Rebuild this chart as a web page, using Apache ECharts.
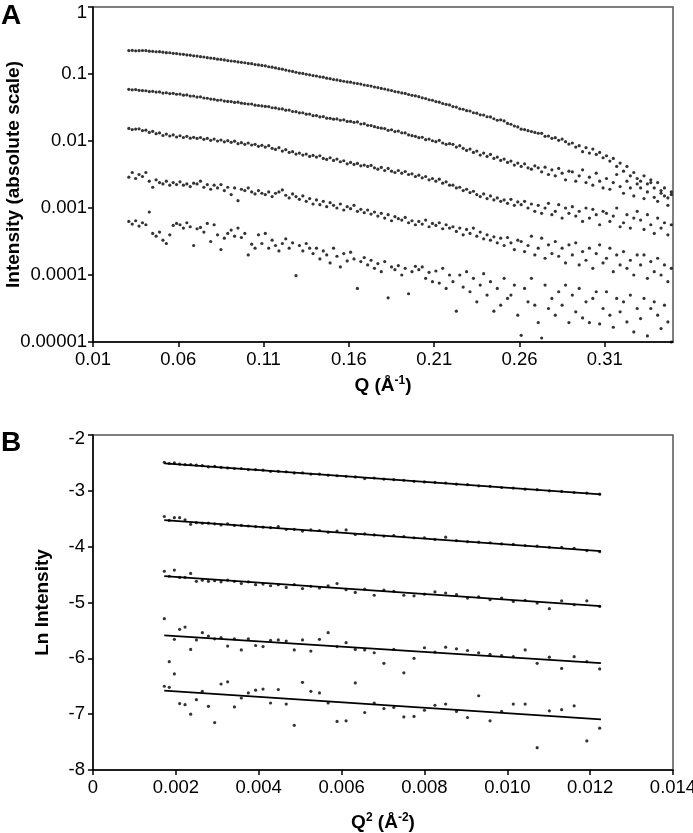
<!DOCTYPE html>
<html><head><meta charset="utf-8">
<script src="https://cdn.jsdelivr.net/npm/echarts@6/dist/echarts.min.js"></script>
<style>html,body{margin:0;padding:0;background:#fff}#c{width:693px;height:833px}</style>
</head><body><div id="c"></div>
<script>
// ---------- Panel A: intensity (log axis) vs Q ----------
const qA = [
0.031,0.033,0.035,0.037,0.039,0.041,0.043,0.045,0.047,0.049,
0.051,0.053,0.055,0.057,0.059,0.061,0.063,0.065,0.067,0.069,
0.071,0.073,0.075,0.077,0.079,0.081,0.083,0.085,0.087,0.089,
0.091,0.093,0.095,0.097,0.099,0.101,0.103,0.105,0.107,0.109,
0.111,0.113,0.115,0.117,0.119,0.121,0.123,0.125,0.127,0.129,
0.131,0.133,0.135,0.137,0.139,0.141,0.143,0.145,0.147,0.149,
0.151,0.153,0.155,0.157,0.159,0.161,0.163,0.165,0.167,0.169,
0.171,0.173,0.175,0.177,0.179,0.181,0.183,0.185,0.187,0.189,
0.191,0.193,0.195,0.197,0.199,0.201,0.203,0.205,0.207,0.209,
0.211,0.213,0.215,0.217,0.219,0.221,0.223,0.225,0.227,0.229,
0.231,0.233,0.235,0.237,0.239,0.241,0.243,0.245,0.247,0.249,
0.251,0.253,0.255,0.257,0.259,0.261,0.263,0.265,0.267,0.269,
0.271,0.273,0.275,0.277,0.279,0.281,0.283,0.285,0.287,0.289,
0.291,0.293,0.295,0.297,0.299,0.301,0.303,0.305,0.307,0.309,
0.311,0.313,0.315,0.317,0.319,0.321,0.323,0.325,0.327,0.329,
0.331,0.333,0.335,0.337,0.339,0.341,0.343,0.345,0.347,0.349];

// log10 of intensity
const aS1LogI = [
-0.650,-0.648,-0.654,-0.652,-0.649,-0.651,-0.660,-0.662,-0.668,-0.667,
-0.674,-0.681,-0.683,-0.692,-0.695,-0.702,-0.706,-0.716,-0.719,-0.729,
-0.733,-0.742,-0.746,-0.757,-0.762,-0.768,-0.779,-0.782,-0.790,-0.800,
-0.806,-0.810,-0.820,-0.826,-0.832,-0.842,-0.846,-0.858,-0.864,-0.872,
-0.878,-0.892,-0.898,-0.910,-0.920,-0.928,-0.942,-0.952,-0.962,-0.974,
-0.986,-0.992,-1.004,-1.012,-1.024,-1.030,-1.042,-1.048,-1.062,-1.070,
-1.082,-1.088,-1.100,-1.108,-1.118,-1.122,-1.136,-1.142,-1.150,-1.164,
-1.172,-1.180,-1.194,-1.202,-1.216,-1.224,-1.238,-1.246,-1.262,-1.270,
-1.282,-1.290,-1.306,-1.318,-1.326,-1.338,-1.356,-1.366,-1.384,-1.392,
-1.412,-1.420,-1.440,-1.452,-1.462,-1.486,-1.494,-1.520,-1.526,-1.548,
-1.552,-1.578,-1.584,-1.610,-1.612,-1.638,-1.640,-1.668,-1.690,-1.684,
-1.700,-1.738,-1.750,-1.776,-1.790,-1.824,-1.830,-1.846,-1.858,-1.872,
-1.884,-1.886,-1.930,-1.925,-1.960,-1.950,-1.990,-1.972,-2.010,-2.046,
-2.030,-2.090,-2.070,-2.160,-2.100,-2.180,-2.120,-2.200,-2.170,-2.250,
-2.220,-2.300,-2.260,-2.380,-2.330,-2.450,-2.380,-2.520,-2.470,-2.560,
-2.600,-2.520,-2.640,-2.580,-2.700,-2.620,-2.780,-2.700,-2.850,-2.760];
const aS2LogI = [
-1.228,-1.236,-1.232,-1.244,-1.248,-1.250,-1.262,-1.258,-1.270,-1.268,
-1.284,-1.280,-1.292,-1.288,-1.302,-1.300,-1.316,-1.312,-1.330,-1.328,
-1.344,-1.340,-1.358,-1.362,-1.374,-1.378,-1.392,-1.388,-1.404,-1.410,
-1.412,-1.424,-1.420,-1.436,-1.442,-1.448,-1.448,-1.466,-1.470,-1.476,
-1.484,-1.486,-1.504,-1.506,-1.520,-1.522,-1.540,-1.538,-1.560,-1.562,
-1.580,-1.578,-1.600,-1.598,-1.622,-1.620,-1.640,-1.636,-1.660,-1.662,
-1.674,-1.670,-1.690,-1.684,-1.708,-1.708,-1.722,-1.716,-1.746,-1.742,
-1.766,-1.770,-1.786,-1.800,-1.808,-1.814,-1.840,-1.832,-1.860,-1.852,
-1.878,-1.880,-1.910,-1.920,-1.930,-1.950,-1.944,-1.980,-1.972,-1.996,
-2.010,-1.990,-2.030,-2.050,-2.040,-2.050,-2.090,-2.070,-2.110,-2.140,
-2.120,-2.170,-2.150,-2.210,-2.180,-2.230,-2.200,-2.260,-2.240,-2.290,
-2.270,-2.320,-2.300,-2.360,-2.330,-2.380,-2.340,-2.400,-2.420,-2.370,
-2.400,-2.460,-2.390,-2.500,-2.430,-2.520,-2.410,-2.480,-2.580,-2.450,
-2.460,-2.600,-2.520,-2.430,-2.620,-2.540,-2.660,-2.480,-2.600,-2.700,
-2.560,-2.720,-2.620,-2.500,-2.680,-2.780,-2.600,-2.700,-2.820,-2.640,
-2.700,-2.860,-2.760,-2.620,-2.840,-2.900,-2.740,-2.820,-2.960,-2.800];
const aS3LogI = [
-1.812,-1.830,-1.822,-1.818,-1.845,-1.838,-1.872,-1.855,-1.890,-1.880,
-1.918,-1.896,-1.925,-1.910,-1.940,-1.922,-1.948,-1.930,-1.958,-1.945,
-1.962,-1.948,-1.975,-1.960,-1.990,-1.972,-2.000,-1.985,-2.012,-1.995,
-2.020,-2.002,-2.040,-2.025,-2.050,-2.030,-2.060,-2.050,-2.080,-2.065,
-2.090,-2.070,-2.110,-2.125,-2.100,-2.150,-2.130,-2.170,-2.160,-2.195,
-2.180,-2.210,-2.195,-2.230,-2.215,-2.240,-2.220,-2.260,-2.275,-2.250,
-2.290,-2.270,-2.310,-2.295,-2.340,-2.320,-2.350,-2.335,-2.370,-2.360,
-2.380,-2.365,-2.400,-2.420,-2.395,-2.440,-2.410,-2.450,-2.470,-2.440,
-2.480,-2.455,-2.500,-2.490,-2.530,-2.510,-2.550,-2.530,-2.580,-2.560,
-2.600,-2.570,-2.630,-2.610,-2.660,-2.660,-2.700,-2.690,-2.740,-2.720,
-2.770,-2.750,-2.800,-2.830,-2.790,-2.860,-2.820,-2.880,-2.850,-2.900,
-2.880,-2.930,-2.870,-2.960,-2.910,-2.950,-2.900,-3.000,-2.940,-3.050,
-2.960,-3.080,-3.000,-2.930,-3.100,-3.050,-2.950,-3.150,-3.000,-3.080,
-2.980,-3.120,-3.050,-3.200,-3.000,-3.150,-3.020,-3.100,-3.250,-3.050,
-3.080,-3.200,-3.120,-3.000,-3.280,-3.220,-3.100,-3.300,-3.150,-3.050,
-3.180,-3.320,-3.100,-3.250,-3.380,-3.150,-3.300,-3.220,-3.400,-3.250];
const aS4LogI = [
-2.540,-2.470,-2.560,-2.500,-2.530,-2.470,-2.600,-2.690,-2.580,-2.620,
-2.640,-2.600,-2.660,-2.620,-2.650,-2.610,-2.660,-2.640,-2.680,-2.630,
-2.640,-2.600,-2.690,-2.650,-2.720,-2.660,-2.700,-2.650,-2.740,-2.690,
-2.800,-2.700,-2.890,-2.720,-2.740,-2.700,-2.760,-2.790,-2.740,-2.780,
-2.800,-2.760,-2.830,-2.780,-2.760,-2.730,-2.810,-2.850,-2.790,-2.830,
-2.870,-2.820,-2.900,-2.860,-2.940,-2.880,-2.950,-2.900,-2.980,-2.920,
-2.960,-3.000,-2.940,-3.030,-2.980,-3.010,-2.960,-3.050,-3.020,-3.070,
-3.030,-3.090,-3.060,-3.120,-3.080,-3.150,-3.100,-3.190,-3.130,-3.160,
-3.180,-3.140,-3.220,-3.190,-3.250,-3.200,-3.240,-3.180,-3.280,-3.230,
-3.260,-3.220,-3.310,-3.250,-3.300,-3.280,-3.350,-3.300,-3.400,-3.320,
-3.380,-3.300,-3.420,-3.360,-3.460,-3.400,-3.480,-3.430,-3.520,-3.450,
-3.560,-3.440,-3.520,-3.620,-3.480,-3.500,-3.650,-3.560,-3.420,-3.700,
-3.600,-3.450,-3.750,-3.550,-3.680,-3.500,-3.720,-3.600,-3.820,-3.550,
-3.700,-3.520,-3.850,-3.650,-3.780,-3.600,-3.900,-3.680,-3.550,-3.820,
-3.750,-3.600,-3.950,-3.700,-3.850,-3.650,-3.900,-3.780,-4.000,-3.700,
-3.850,-3.700,-4.050,-3.800,-3.950,-3.750,-4.000,-3.850,-4.100,-3.900];
const aS5LogI = [
-3.200,-3.240,-3.190,-3.270,-3.220,-3.250,-3.060,-3.380,-3.420,-3.360,
-3.480,-3.530,-3.400,-3.260,-3.230,-3.250,-3.300,-3.220,-3.280,-3.560,
-3.310,-3.290,-3.360,-3.230,-3.500,-3.250,-3.400,-3.620,-3.450,-3.380,
-3.330,-3.420,-3.300,-3.440,-3.380,-3.700,-3.540,-3.600,-3.400,-3.530,
-3.380,-3.600,-3.480,-3.560,-3.640,-3.530,-3.460,-3.600,-3.520,-4.010,
-3.560,-3.640,-3.530,-3.600,-3.680,-3.600,-3.760,-3.640,-3.700,-3.820,
-3.600,-3.720,-3.880,-3.680,-3.790,-3.660,-3.760,-4.200,-3.800,-3.740,
-3.850,-3.780,-3.900,-3.830,-3.950,-3.800,-4.340,-3.880,-3.920,-3.860,
-4.000,-3.900,-4.280,-3.950,-3.870,-3.920,-3.880,-4.050,-3.960,-4.100,
-3.940,-4.120,-3.900,-4.200,-4.000,-4.100,-4.540,-4.000,-4.180,-3.950,
-4.250,-4.050,-4.400,-4.150,-3.980,-4.300,-4.100,-4.540,-4.200,-4.450,
-4.050,-4.350,-4.300,-4.150,-4.600,-4.900,-4.200,-4.400,-4.050,-4.450,
-4.710,-4.940,-4.150,-4.500,-4.350,-4.600,-4.250,-4.450,-4.150,-4.710,
-4.300,-4.550,-4.200,-4.640,-4.400,-4.710,-4.350,-4.250,-4.730,-4.500,
-4.250,-4.600,-4.780,-4.350,-4.550,-4.400,-4.700,-4.300,-4.850,-4.500,
-4.650,-4.350,-4.910,-4.500,-4.400,-4.600,-4.800,-4.450,-4.700,-5.000];

const xTicksA = [0.01,0.06,0.11,0.16,0.21,0.26,0.31];
const xTickLabelsA = ['0.01','0.06','0.11','0.16','0.21','0.26','0.31'];
const yTicksA = [0.00001,0.0001,0.001,0.01,0.1,1];
const yTickLabelsA = ['0.00001','0.0001','0.001','0.01','0.1','1'];

// ---------- Panel B: Ln intensity vs Q^2 (Guinier) ----------
const qB2 = [
0.001722,0.001841,0.001964,0.002091,0.002222,0.002357,0.002496,0.002639,0.002786,0.002937,
0.003091,0.003250,0.003413,0.003580,0.003750,0.003925,0.004104,0.004286,0.004473,0.004664,
0.004858,0.005057,0.005259,0.005466,0.005676,0.005891,0.006109,0.006331,0.006558,0.006788,
0.007022,0.007261,0.007503,0.007749,0.008000,0.008254,0.008512,0.008774,0.009040,0.009310,
0.009584,0.009863,0.010145,0.010431,0.010721,0.011015,0.011312,0.011614,0.011920,0.012230];
const bS1 = [
-2.49,-2.51,-2.50,-2.52,-2.53,-2.53,-2.54,-2.55,-2.57,-2.56,
-2.58,-2.59,-2.60,-2.60,-2.62,-2.62,-2.63,-2.65,-2.65,-2.66,
-2.68,-2.68,-2.70,-2.70,-2.72,-2.73,-2.74,-2.75,-2.78,-2.77,
-2.79,-2.80,-2.81,-2.83,-2.84,-2.85,-2.86,-2.88,-2.89,-2.91,
-2.92,-2.94,-2.95,-2.97,-2.98,-3.00,-3.01,-3.03,-3.04,-3.06];
const bS2 = [
-3.46,-3.53,-3.48,-3.48,-3.52,-3.60,-3.57,-3.58,-3.58,-3.59,
-3.61,-3.59,-3.62,-3.62,-3.63,-3.64,-3.65,-3.66,-3.64,-3.69,
-3.69,-3.72,-3.70,-3.71,-3.74,-3.72,-3.70,-3.78,-3.77,-3.79,
-3.81,-3.80,-3.82,-3.84,-3.84,-3.87,-3.83,-3.89,-3.91,-3.92,
-3.93,-3.95,-3.96,-3.98,-3.99,-4.01,-4.01,-4.03,-4.07,-4.09];
const bS3 = [
-4.44,-4.53,-4.42,-4.55,-4.55,-4.48,-4.62,-4.60,-4.62,-4.61,
-4.63,-4.60,-4.62,-4.66,-4.63,-4.68,-4.67,-4.70,-4.68,-4.73,
-4.68,-4.75,-4.71,-4.74,-4.70,-4.66,-4.77,-4.82,-4.76,-4.87,
-4.78,-4.80,-4.87,-4.88,-4.85,-4.81,-4.83,-4.86,-4.92,-4.90,
-4.95,-4.92,-4.98,-4.96,-5.01,-5.11,-4.97,-5.04,-4.97,-5.07];
const bS4 = [
-5.29,-6.06,-5.66,-5.48,-5.44,-5.84,-5.67,-5.54,-5.60,-5.65,
-5.63,-5.78,-5.65,-5.85,-5.65,-5.77,-5.79,-5.68,-5.67,-5.69,
-5.85,-5.67,-5.87,-5.66,-5.54,-5.79,-5.72,-5.84,-5.85,-5.90,
-6.09,-5.84,-6.26,-6.00,-5.81,-5.89,-5.80,-5.83,-5.86,-5.90,
-5.93,-5.95,-5.97,-5.85,-6.09,-5.98,-6.18,-5.97,-6.06,-6.19];
const bS5 = [
-6.50,-6.52,-6.28,-6.81,-6.83,-7.00,-6.74,-6.59,-6.86,-7.15,
-6.46,-6.42,-6.87,-6.71,-6.62,-6.57,-6.55,-6.80,-6.56,-6.82,
-7.20,-6.43,-6.59,-6.62,-6.80,-7.13,-7.12,-6.44,-6.97,-6.80,
-6.90,-6.88,-7.05,-7.04,-6.93,-6.84,-6.82,-6.95,-7.06,-6.67,
-7.12,-6.95,-6.82,-6.82,-7.60,-6.94,-6.92,-6.85,-7.48,-7.25];
// fitted straight lines (endpoints as drawn)
const fitQ2 = [0.00172, 0.01226];
const fitB1 = [-2.507, -3.063];
const fitB2 = [-3.523, -4.079];
const fitB3 = [-4.527, -5.065];
const fitB4 = [-5.590, -6.085];
const fitB5 = [-6.580, -7.095];

const xTickLabelsB = ['0','0.002','0.004','0.006','0.008','0.010','0.012','0.014'];
const yTickLabelsB = ['-8','-7','-6','-5','-4','-3','-2'];

// ---------- build ----------
const FONT = '"Liberation Sans", Arial, sans-serif';
const DOT = '#000';
const pairsA = arr => qA.map((q, i) => [q, Math.pow(10, arr[i])]);
const pairsB = arr => qB2.map((q, i) => [q, arr[i]]);
const fitLine = arr => fitQ2.map((q, i) => [q, arr[i]]);

const axisLine = {show: true, onZero: false, lineStyle: {color: '#000', width: 1.5}};
const axisTick = {show: true, inside: false, length: 5, lineStyle: {color: '#000', width: 1.5}};
const lbl = {fontSize: 18.5, color: '#000', fontFamily: FONT};
const nameStyle = {fontSize: 19, fontWeight: 'bold', color: '#000', fontFamily: FONT};

function scatterA(arr) {
  return {type: 'scatter', xAxisIndex: 0, yAxisIndex: 0, data: pairsA(arr),
    symbol: 'circle', symbolSize: 3.2, itemStyle: {color: DOT}, silent: true, animation: false};
}
function scatterB(arr) {
  return {type: 'scatter', xAxisIndex: 1, yAxisIndex: 1, data: pairsB(arr),
    symbol: 'circle', symbolSize: 3.2, itemStyle: {color: DOT}, silent: true, animation: false};
}
function lineB(arr) {
  return {type: 'line', xAxisIndex: 1, yAxisIndex: 1, data: fitLine(arr), showSymbol: false,
    lineStyle: {color: '#000', width: 1.8}, silent: true, animation: false, z: 1};
}

const chart = echarts.init(document.getElementById('c'), null, {renderer: 'canvas'});
chart.setOption({
  animation: false,
  backgroundColor: '#fff',
  textStyle: {fontFamily: FONT},
  grid: [
    {left: 93, top: 7, width: 580, height: 335, show: true, borderColor: '#555', borderWidth: 1.5, backgroundColor: 'transparent', containLabel: false, outerBoundsMode: 'none'},
    {left: 93, top: 435, width: 580, height: 335, show: true, borderColor: '#555', borderWidth: 1.5, backgroundColor: 'transparent', containLabel: false, outerBoundsMode: 'none'}
  ],
  graphic: [
    {type: 'text', left: 1, top: 2, style: {text: 'A', font: 'bold 28px ' + FONT, fill: '#000'}},
    {type: 'text', left: 1, top: 429, style: {text: 'B', font: 'bold 28px ' + FONT, fill: '#000'}}
  ],
  xAxis: [
    {type: 'value', gridIndex: 0, min: 0.01, max: 0.35,
      axisLine, axisTick: Object.assign({}, axisTick, {customValues: xTicksA}),
      axisLabel: Object.assign({}, lbl, {margin: 8, customValues: xTicksA,
        formatter: v => { const i = xTicksA.findIndex(t => Math.abs(t - v) < 1e-9); return i >= 0 ? xTickLabelsA[i] : ''; }}),
      splitLine: {show: false},
      name: '{t|Q (Å}{s|-1}{t|)}', nameLocation: 'middle', nameGap: 33, nameMoveOverlap: false,
      nameTextStyle: {rich: {t: Object.assign({}, nameStyle, {lineHeight: 22}), s: Object.assign({}, nameStyle, {fontSize: 12, verticalAlign: 'top', lineHeight: 12})}}
    },
    {type: 'value', gridIndex: 1, min: 0, max: 0.014, interval: 0.002,
      axisLine, axisTick,
      axisLabel: Object.assign({}, lbl, {margin: 8, showMinLabel: true, showMaxLabel: true, hideOverlap: false,
        formatter: v => { const i = Math.round(v / 0.002); return xTickLabelsB[i] !== undefined ? xTickLabelsB[i] : ''; }}),
      splitLine: {show: false},
      name: '{t|Q}{s|2}{t| (Å}{s|-2}{t|)}', nameLocation: 'middle', nameGap: 42, nameMoveOverlap: false,
      nameTextStyle: {rich: {t: Object.assign({}, nameStyle, {lineHeight: 22}), s: Object.assign({}, nameStyle, {fontSize: 12, verticalAlign: 'top', lineHeight: 12})}}
    }
  ],
  yAxis: [
    {type: 'log', logBase: 10, gridIndex: 0, min: 0.00001, max: 1,
      axisLine, axisTick,
      axisLabel: Object.assign({}, lbl, {margin: 6, showMinLabel: true, showMaxLabel: true,
        formatter: v => { const i = yTicksA.findIndex(t => Math.abs(Math.log10(t) - Math.log10(v)) < 1e-6); if (i < 0) return ''; return i === yTicksA.length - 1 ? '{top|' + yTickLabelsA[i] + '}' : yTickLabelsA[i]; },
        rich: {top: Object.assign({}, lbl, {padding: [12, 0, 0, 0]})}}),
      splitLine: {show: false},
      name: 'Intensity (absolute scale)', nameLocation: 'middle', nameRotate: 90, nameGap: 70, nameMoveOverlap: false,
      nameTextStyle: nameStyle
    },
    {type: 'value', gridIndex: 1, min: -8, max: -2, interval: 1,
      axisLine, axisTick,
      axisLabel: Object.assign({}, lbl, {margin: 8, showMinLabel: true, showMaxLabel: true,
        formatter: v => { const i = Math.round(v + 8); const s = yTickLabelsB[i]; if (s === undefined) return ''; return i === yTickLabelsB.length - 1 ? '{top|' + s + '}' : s; },
        rich: {top: Object.assign({}, lbl, {padding: [8, 0, 0, 0]})}}),
      splitLine: {show: false},
      name: 'Ln Intensity', nameLocation: 'middle', nameRotate: 90, nameGap: 41, nameMoveOverlap: false,
      nameTextStyle: nameStyle
    }
  ],
  series: [
    scatterA(aS1LogI), scatterA(aS2LogI), scatterA(aS3LogI), scatterA(aS4LogI), scatterA(aS5LogI),
    lineB(fitB1), lineB(fitB2), lineB(fitB3), lineB(fitB4), lineB(fitB5),
    scatterB(bS1), scatterB(bS2), scatterB(bS3), scatterB(bS4), scatterB(bS5)
  ]
});
</script>
</body></html>
